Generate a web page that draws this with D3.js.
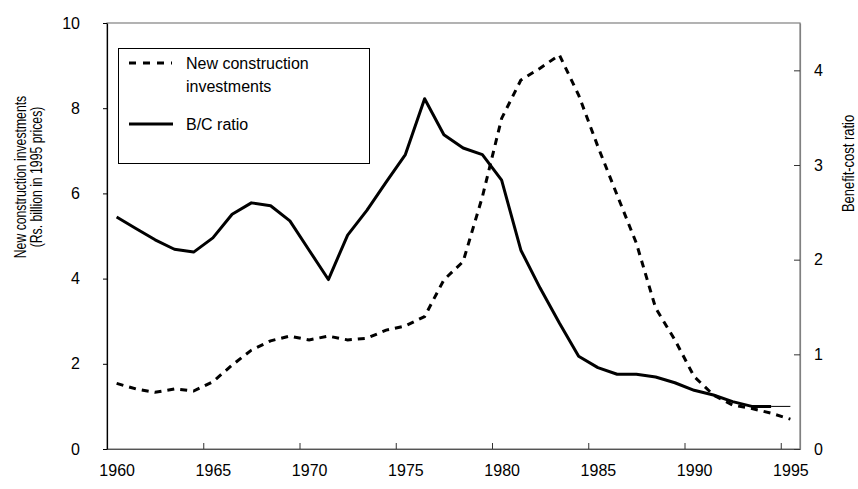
<!DOCTYPE html>
<html>
<head>
<meta charset="utf-8">
<script src="https://cdn.jsdelivr.net/npm/d3@7"></script>
<style>
  body { margin: 0; background: #fff; }
  text { font-family: "Liberation Sans", Arial, sans-serif; fill: #000; }
</style>
</head>
<body>
<div id="chart"></div>
<script>
// chart data (one value per year)
var years = [1960,1961,1962,1963,1964,1965,1966,1967,1968,1969,1970,1971,1972,1973,1974,1975,1976,1977,
             1978,1979,1980,1981,1982,1983,1984,1985,1986,1987,1988,1989,1990,1991,1992,1993,1994,1995];
var investments = [1.54,1.41,1.33,1.41,1.36,1.58,1.97,2.32,2.54,2.65,2.56,2.65,2.56,2.60,2.79,2.89,3.11,3.97,
                   4.40,5.92,7.76,8.66,8.94,9.25,8.31,7.10,5.96,4.83,3.31,2.56,1.70,1.27,1.03,0.95,0.84,0.70];
var bcRatio = [2.45,2.33,2.21,2.11,2.08,2.23,2.48,2.60,2.57,2.41,2.10,1.79,2.26,2.52,2.82,3.11,3.70,3.32,
               3.18,3.11,2.84,2.10,1.70,1.33,0.98,0.86,0.79,0.79,0.76,0.70,0.62,0.57,0.50,0.45,0.45,0.45];
var xTicks = [1960,1965,1970,1975,1980,1985,1990,1995];
var leftTicks = [0,2,4,6,8,10];
var rightTicks = [0,1,2,3,4];
var legendLabels = [["New construction","investments"],["B/C ratio"]];

var W = 858, H = 489;
var L = 107, R = 800, T = 23, B = 449;

var svg = d3.select("#chart").append("svg").attr("width", W).attr("height", H);

// category axis: each year is one cell, points sit in the middle of the cell
var x = d3.scaleLinear().domain([1960, 1996]).range([L, R]);
var yL = d3.scaleLinear().domain([0, 10]).range([B, T]);
var yR = d3.scaleLinear().domain([0, 4.5]).range([B, T]);

// plot frame
svg.append("rect").attr("x", L).attr("y", T).attr("width", R-L).attr("height", B-T)
  .attr("fill", "none").attr("stroke", "#808080").attr("stroke-width", 1.2);

// bottom axis ticks (between categories) and labels (centred on categories)
var xAxis = svg.append("g").attr("transform", "translate(0," + B + ")")
  .call(d3.axisBottom(x).tickValues(xTicks).tickSize(-6).tickFormat(""));
xAxis.select(".domain").attr("stroke", "#555");
xAxis.selectAll("line").attr("stroke", "#333");
var xLab = svg.append("g").attr("transform", "translate(0," + B + ")")
  .call(d3.axisBottom(x).tickValues(xTicks.map(function(d){return d+0.5;})).tickSize(0).tickPadding(16)
        .tickFormat(function(d){return Math.floor(d);}));
xLab.select(".domain").remove();
xLab.selectAll("text").style("font-size", "16px");

// left axis
var lAxis = svg.append("g").attr("transform", "translate(" + L + ",0)")
  .call(d3.axisLeft(yL).tickValues(leftTicks).tickSize(4).tickPadding(23).tickSizeOuter(0));
lAxis.select(".domain").attr("stroke", "#000").attr("stroke-width", 1.2);
lAxis.selectAll("text").style("font-size", "16px");

// right axis
var rAxis = svg.append("g").attr("transform", "translate(" + R + ",0)")
  .call(d3.axisRight(yR).tickValues(rightTicks).tickSize(-6).tickPadding(14).tickSizeOuter(0)
        .tickFormat(d3.format("d")));
rAxis.select(".domain").attr("stroke", "#808080").attr("stroke-width", 1.2);
rAxis.selectAll("line").attr("stroke", "#333");
rAxis.selectAll("text").style("font-size", "16px");

// lines
var invLine = d3.line().x(function(d,i){return x(years[i]+0.5);}).y(function(d){return yL(d);});
var bcLine = d3.line().x(function(d,i){return x(years[i]+0.5);}).y(function(d){return yR(d);});

svg.append("path").attr("d", invLine(investments))
  .attr("fill", "none").attr("stroke", "#000").attr("stroke-width", 3).attr("stroke-dasharray", "7,6");

// B/C line is thick up to 1994, last step drawn thin
svg.append("path").attr("d", bcLine(bcRatio.slice(0, bcRatio.length-1)))
  .attr("fill", "none").attr("stroke", "#000").attr("stroke-width", 3).attr("stroke-linejoin", "round");
svg.append("path")
  .attr("d", d3.line().x(function(d){return x(d[0]+0.5);}).y(function(d){return yR(d[1]);})(
      [[years[years.length-2], bcRatio[bcRatio.length-2]], [years[years.length-1], bcRatio[bcRatio.length-1]]]))
  .attr("fill", "none").attr("stroke", "#000").attr("stroke-width", 1);

// axis titles (the original text is squeezed along its length)
svg.append("text").attr("transform", "translate(25.5,177)rotate(-90)scale(0.765,1)").attr("text-anchor", "middle")
  .style("font-size", "16px").text("New construction investments");
svg.append("text").attr("transform", "translate(42,177)rotate(-90)scale(0.765,1)").attr("text-anchor", "middle")
  .style("font-size", "16px").text("(Rs. billion in 1995 prices)");
svg.append("text").attr("transform", "translate(854,163.5)rotate(-90)scale(0.81,1)").attr("text-anchor", "middle")
  .style("font-size", "16px").text("Benefit-cost ratio");

// legend
var lg = svg.append("g");
lg.append("rect").attr("x", 118.5).attr("y", 48.5).attr("width", 251).attr("height", 115)
  .attr("fill", "#fff").attr("stroke", "#000").attr("stroke-width", 1);
lg.append("line").attr("x1", 129).attr("x2", 172).attr("y1", 63).attr("y2", 63)
  .attr("stroke", "#000").attr("stroke-width", 3).attr("stroke-dasharray", "7,7");
lg.append("line").attr("x1", 129).attr("x2", 173).attr("y1", 124).attr("y2", 124)
  .attr("stroke", "#000").attr("stroke-width", 3);
lg.append("text").attr("x", 186).attr("y", 69).style("font-size", "16px").text(legendLabels[0][0]);
lg.append("text").attr("x", 186).attr("y", 92).style("font-size", "16px").text(legendLabels[0][1]);
lg.append("text").attr("x", 186).attr("y", 130).style("font-size", "16px").text(legendLabels[1][0]);
</script>
</body>
</html>
